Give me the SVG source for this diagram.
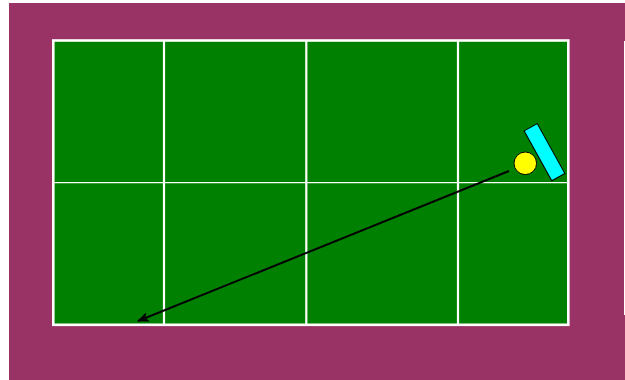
<svg xmlns="http://www.w3.org/2000/svg" width="625" height="380" viewBox="0 0 625 380">
  <defs>
    <style>
      .court { fill: #008000; stroke: #ffffff; stroke-width: 2.6; }
      .line { stroke: #ffffff; fill: none; }
      .conn { stroke: #000000; stroke-width: 2; fill: none; }
    </style>
    <marker id="arrow" markerWidth="12" markerHeight="10" refX="11" refY="5" orient="auto" markerUnits="userSpaceOnUse">
      <path d="M0,0 L12,5 L0,10 L3,5 Z" fill="#000000"/>
    </marker>
  </defs>
  <rect x="0" y="0" width="625" height="380" fill="#ffffff"/>
  <rect x="9" y="3" width="616" height="377" fill="#993366"/>
  <rect x="624" y="41" width="1" height="274" fill="#ffffff"/>
  <g id="court">
    <rect class="court" x="53.3" y="40.5" width="515" height="284.3"/>
    <line class="line" x1="164" y1="40.5" x2="164" y2="325" stroke-width="2.2"/>
    <line class="line" x1="306.3" y1="40.5" x2="306.3" y2="325" stroke-width="2.2"/>
    <line class="line" x1="458" y1="40.5" x2="458" y2="325" stroke-width="2.2"/>
    <line class="line" x1="53.3" y1="182.6" x2="568.3" y2="182.6" stroke-width="1.4"/>
  </g>
  <g id="connectors">
    <line class="conn" x1="509" y1="171" x2="138" y2="321" marker-end="url(#arrow)"/>
  </g>
  <g id="ball">
    <circle cx="525.3" cy="163.3" r="11.3" fill="#ffff00" stroke="#000000" stroke-width="1"/>
  </g>
  <g id="racket">
    <rect x="-7.5" y="-28.5" width="15" height="57" fill="#00ffff" stroke="#000000" stroke-width="1" transform="translate(544.5,152.2) rotate(-29)"/>
  </g>
</svg>
